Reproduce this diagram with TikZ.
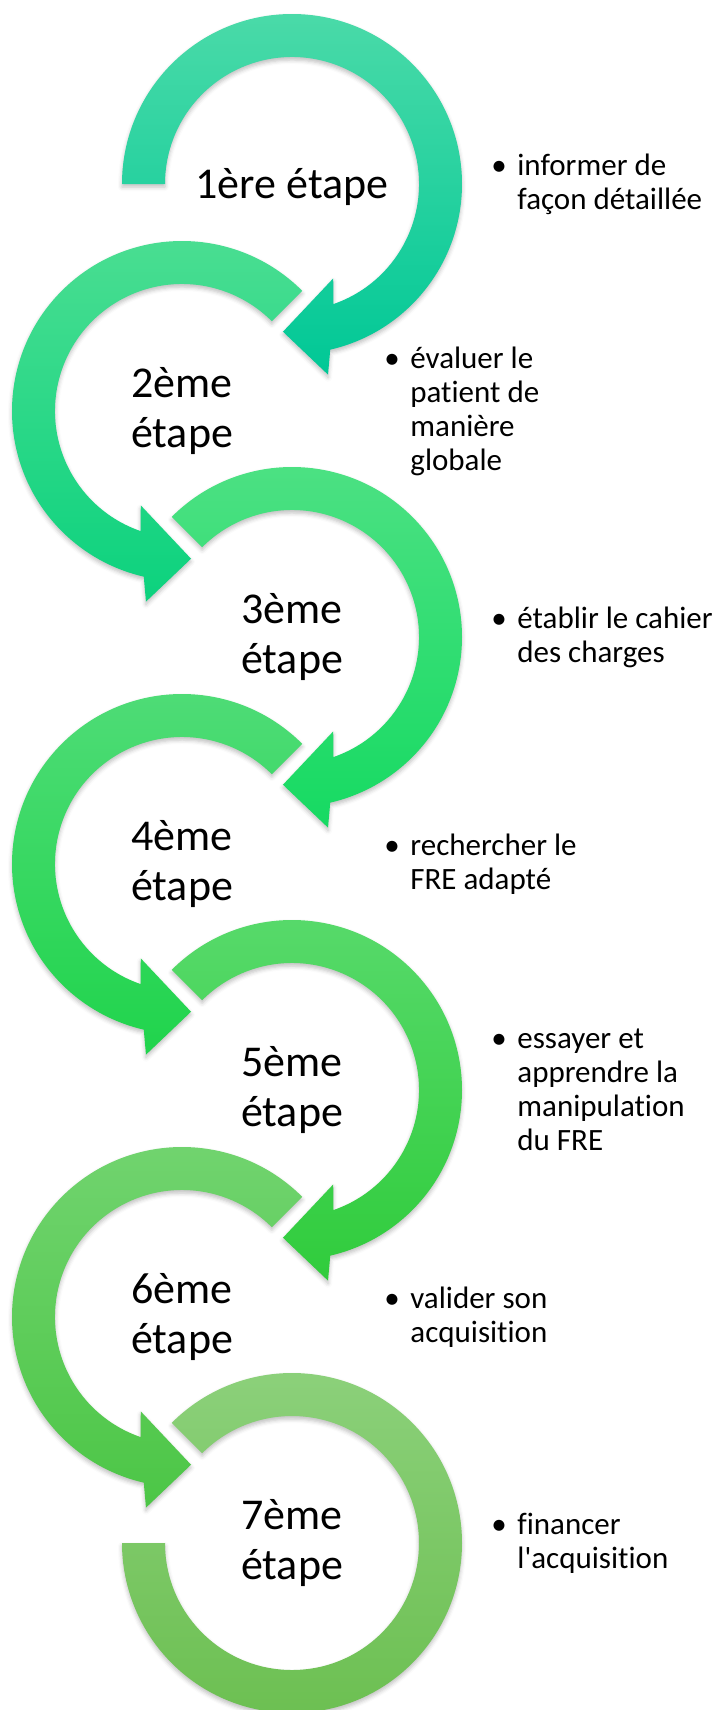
\documentclass[tikz,border=0pt]{standalone}
\usepackage{fontspec}
\setmainfont{Carlito}[Ligatures={TeX,NoCommon}]
\usepackage{tikz}
\usetikzlibrary{calc, shadows.blur}
\definecolor{StepAtop}{RGB}{74, 218, 168}
\definecolor{StepAbot}{RGB}{0, 200, 150}
\definecolor{StepBtop}{RGB}{76, 222, 146}
\definecolor{StepBbot}{RGB}{12, 210, 126}
\definecolor{StepCtop}{RGB}{78, 225, 132}
\definecolor{StepCbot}{RGB}{22, 218, 98}
\definecolor{StepDtop}{RGB}{80, 220, 120}
\definecolor{StepDbot}{RGB}{32, 212, 76}
\definecolor{StepEtop}{RGB}{88, 218, 108}
\definecolor{StepEbot}{RGB}{48, 204, 60}
\definecolor{StepFtop}{RGB}{114, 212, 112}
\definecolor{StepFbot}{RGB}{76, 198, 70}
\definecolor{StepGtop}{RGB}{141, 209, 124}
\definecolor{StepGbot}{RGB}{107, 191, 80}
\tikzset{
    x=0.5pt, y=0.5pt,
    every node/.style={font=\fontsize{15.5pt}{17pt}\selectfont, inner sep=0pt},
    arrowband/.style={blur shadow={shadow xshift=0pt, shadow yshift=-1.5pt, shadow blur radius=2pt, shadow opacity=25}},
    steplabel/.style={align=center, font=\fontsize{22pt}{25pt}\selectfont},
    notetext/.style={align=left, anchor=west}
}
% bullet with hanging indent
\newcommand{\puce}{\makebox[13pt][l]{\textbullet}}
\newcommand{\suite}{\hspace*{13pt}}
% curved arrow round a centre: #1 centre, #2 side (1 or -1), #3 start angle, #4/#5 colours
\newcommand{\etapearrow}[5]{%
    \begin{scope}[shift={(#1)}, xscale=#2]
        \path [arrowband, top color=#4, bottom color=#5]
            (#3:170) arc[start angle=#3, end angle=-77, radius=170]
            -- (-79.3:194) -- (-93.5:148) -- (-66.4:103) -- (-71:127)
            arc[start angle=-71, end angle=#3, radius=127] -- cycle;
    \end{scope}}

\begin{document}
\begin{tikzpicture}
    \useasboundingbox (0,0) rectangle (721,-1710);

    \coordinate (c1) at (292,-184);
    \coordinate (c2) at (182,-411);
    \coordinate (c3) at (292,-637);
    \coordinate (c4) at (182,-864);
    \coordinate (c5) at (292,-1090);
    \coordinate (c6) at (182,-1317);
    \coordinate (c7) at (292,-1543);

    \etapearrow{c1}{1}{180}{StepAtop}{StepAbot}
    \etapearrow{c2}{-1}{135}{StepBtop}{StepBbot}
    \etapearrow{c3}{1}{135}{StepCtop}{StepCbot}
    \etapearrow{c4}{-1}{135}{StepDtop}{StepDbot}
    \etapearrow{c5}{1}{135}{StepEtop}{StepEbot}
    \etapearrow{c6}{-1}{135}{StepFtop}{StepFbot}
    % last one closes without a head
    \begin{scope}[shift={(c7)}]
        \path [arrowband, top color=StepGtop, bottom color=StepGbot]
            (135:170) arc[start angle=135, end angle=-180, radius=170]
            -- (180:127) arc[start angle=-180, end angle=135, radius=127] -- cycle;
    \end{scope}

    \node [steplabel] (step1) at ($(c1)+(0,-3)$) {1ère étape};
    \node [steplabel] (step2) at (c2) {2ème\\étape};
    \node [steplabel] (step3) at (c3) {3ème\\étape};
    \node [steplabel] (step4) at (c4) {4ème\\étape};
    \node [steplabel] (step5) at (c5) {5ème\\étape};
    \node [steplabel] (step6) at (c6) {6ème\\étape};
    \node [steplabel] (step7) at (c7) {7ème\\étape};

    \node [notetext] (note1) at (491,-184) {\puce informer de\\\suite façon détaillée};
    \node [notetext] (note2) at (384,-411) {\puce évaluer le\\\suite patient de\\\suite manière\\\suite globale};
    \node [notetext] (note3) at (491,-637) {\puce établir le cahier\\\suite des charges};
    \node [notetext] (note4) at (384,-864) {\puce rechercher le\\\suite FRE adapté};
    \node [notetext] (note5) at (491,-1090) {\puce essayer et\\\suite apprendre la\\\suite manipulation\\\suite du FRE};
    \node [notetext] (note6) at (384,-1317) {\puce valider son\\\suite acquisition};
    \node [notetext] (note7) at (491,-1543) {\puce financer\\\suite l\textquotesingle acquisition};
\end{tikzpicture}
\end{document}
